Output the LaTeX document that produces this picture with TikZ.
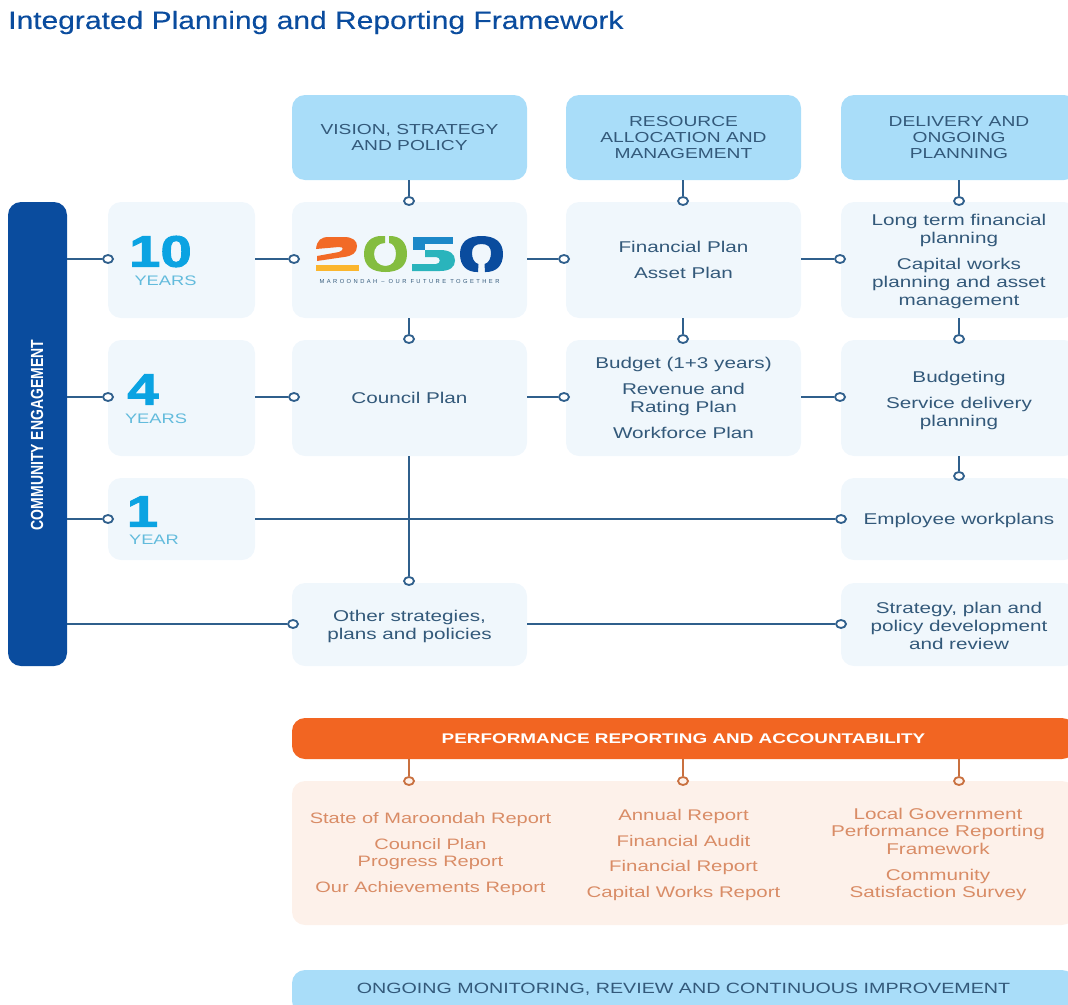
\documentclass[tikz,border=0pt]{standalone}
\usepackage{fontspec}
\setmainfont{Liberation Sans}[FakeStretch=1.325]
\newfontfamily\titlefont{Liberation Sans}[FakeStretch=1.2,FakeBold=0.25]
\newfontfamily\boldwide{Liberation Sans Bold}[FakeStretch=1.35]
\newfontfamily\numfont{Liberation Sans Bold}[FakeStretch=1.28,FakeBold=2.2]
\newfontfamily\narrowbold{Liberation Sans Bold}[FakeStretch=0.8]
\newfontfamily\tagfont{Liberation Sans}[LetterSpace=42]
\newcommand\liftline[1]{\rule{0pt}{#1pt}}
\definecolor{pale}{HTML}{F0F7FC}
\definecolor{sky}{HTML}{A9DDF9}
\definecolor{navy}{HTML}{0A4C9E}
\definecolor{ink}{HTML}{33597A}
\definecolor{wire}{HTML}{2F5F8C}
\definecolor{num}{HTML}{0BA3E2}
\definecolor{yrs}{HTML}{62BBDC}
\definecolor{flame}{HTML}{F26522}
\definecolor{peach}{HTML}{FDF1EA}
\definecolor{rust}{HTML}{D98C66}
\definecolor{wirerust}{HTML}{C9703F}
\definecolor{lorange}{HTML}{F26A26}
\definecolor{lyellow}{HTML}{FBB62E}
\definecolor{lgreen}{HTML}{84BD3F}
\definecolor{lblue}{HTML}{1C88C8}
\definecolor{lteal}{HTML}{2AB4BC}
\tikzset{
  x=1pt,y=-1pt,
  pbox/.style={fill=pale,rounded corners=13pt,inner sep=0pt,align=center,text=ink,
    font=\fontsize{15.6}{18}\selectfont},
  hbox/.style={pbox,fill=sky},
  wbox/.style={pbox,minimum width=235pt,minimum height=116pt},
  dwbox/.style={pbox,minimum width=236pt,minimum height=116pt},
  ybox/.style={pbox,minimum width=147pt},
  hd/.style={hbox,minimum width=235pt,minimum height=85pt,font=\fontsize{14.5}{16}\selectfont},
  dot/.style={circle,draw=wire,fill=white,line width=1.8pt,minimum width=8pt,inner sep=0pt,xscale=1.25},
  odot/.style={dot,draw=wirerust,fill=peach},
  wire/.style={draw=wire,line width=2pt},
  owire/.style={draw=wirerust,line width=2pt},
  bignum/.style={text=num,inner sep=0pt,font=\fontsize{44}{44}\numfont},
  yrtxt/.style={text=yrs,inner sep=0pt,font=\fontsize{13.8}{14}\selectfont},
  rep/.style={text=rust,inner sep=0pt,align=center,font=\fontsize{15.4}{17.6}\selectfont},
}
\begin{document}
\begin{tikzpicture}
\useasboundingbox (0,0) rectangle (1068,1004);
\clip (0,0) rectangle (1068,1004);
\node[anchor=west,inner sep=0pt,text=navy,font=\fontsize{25}{27}\titlefont] (title) at (8,22.5) {Integrated Planning and Reporting Framework};

% headers
\node[hd] (hv) at (409.5,137.5) {VISION, STRATEGY\\AND POLICY};
\node[hd] (hr) at (683.5,137.5) {RESOURCE\\ALLOCATION AND\\MANAGEMENT};
\node[hd,minimum width=236pt] (hd) at (959,137.5) {DELIVERY AND\\ONGOING\\PLANNING};

% community bar
\node[fill=navy,rounded corners=13pt,minimum width=59pt,minimum height=464pt,inner sep=0pt] (comm) at (37.5,434) {};
\node[rotate=90,text=white,inner sep=0pt,font=\fontsize{17.5}{18}\narrowbold] (commt) at (37,435) {COMMUNITY ENGAGEMENT};

% row 10
\node[ybox,minimum height=116pt] (y10) at (181.5,260) {};
\node[wbox] (logo) at (409.5,260) {};
\node[wbox] (fin) at (683.5,260) {Financial Plan\\[8pt]Asset Plan};
\node[dwbox] (ltf) at (959,260) {\liftline{13.5}Long term financial\\planning\\[8pt]Capital works\\planning and asset\\management};
% row 4
\node[ybox,minimum height=116pt] (y4) at (181.5,398) {};
\node[wbox] (cp) at (409.5,398) {Council Plan};
\node[wbox] (bud) at (683.5,398) {Budget (1+3 years)\\[8pt]Revenue and\\Rating Plan\\[8pt]Workforce Plan};
\node[dwbox] (bdg) at (959,398) {\liftline{15.5}Budgeting\\[8pt]Service delivery\\planning};
% row 1
\node[ybox,minimum height=82pt] (y1) at (181.5,519) {};
\node[dwbox,minimum height=82pt] (emp) at (959,519) {\liftline{15}Employee workplans};
% other
\node[wbox,minimum height=83pt] (oth) at (409.5,624.5) {\liftline{15.5}Other strategies,\\plans and policies};
\node[dwbox,minimum height=83pt] (str) at (959,624.5) {\liftline{13.5}Strategy, plan and\\policy development\\and review};

% year labels
\node[bignum] (n10) at (160.5,251.5) {10};
\node[yrtxt] (t10) at (165.5,281) {YEARS};
\node[bignum] (n4) at (143,389.5) {4};
\node[yrtxt] (t4) at (156,419) {YEARS};
\node[bignum] (n1) at (142.5,511.5) {1};
\node[yrtxt] (t1) at (154,540) {YEAR};

% logo
\fill[lorange] (316,249) .. controls (317,240) and (321,237) .. (329,237) -- (344,237) .. controls (353,237) and (357,241) .. (357,246) .. controls (357,253) and (352,256) .. (344,257) -- (317,261) -- (317,256) -- (339,252) .. controls (344,250) and (344,247) .. (339,247) -- cycle;
\fill[lyellow] (316,264.5) rectangle (359,271);
\fill[lgreen] (364,254) .. controls (364,242) and (372,236) .. (381,236) -- (385,236) -- (385,243) .. controls (378,243) and (374,248) .. (374,254) .. controls (374,261) and (379,266) .. (385.5,266) .. controls (392,266) and (396,261) .. (396,254) .. controls (396,248) and (393,243) .. (389,243) -- (389,236) -- (390,236) .. controls (400,236) and (407,242) .. (407,254) .. controls (407,266) and (399,272) .. (385.5,272) .. controls (372,272) and (364,266) .. (364,254) -- cycle;
\fill[lblue] (412.5,236.5) rectangle (453,243.5);
\fill[lblue] (412.5,243.5) rectangle (425,250);
\fill[lteal] (425,250) -- (440,250) .. controls (450,250) and (455,254) .. (455,260.5) .. controls (455,267) and (450,271) .. (440,271) -- (412,271) -- (412,264) -- (436,264) .. controls (441,264) and (441,257) .. (436,257) -- (425,257) -- cycle;
\fill[navy] (460,254) .. controls (460,242) and (468,236) .. (481.5,236) .. controls (495,236) and (503,242) .. (503,254) .. controls (503,266) and (496,272) .. (486,272) -- (485,272) -- (484.5,264) .. controls (489,263) and (491,258) .. (491,253) .. controls (491,247) and (488,244) .. (481.5,244) .. controls (475,244) and (472,247) .. (472,253) .. controls (472,258) and (474,263) .. (478.5,264) -- (478,272) -- (477,272) .. controls (467,272) and (460,266) .. (460,254) -- cycle;
\node[inner sep=0pt,text=ink,font=\fontsize{5.8}{6}\tagfont] (tag) at (409.5,281.5) {MAROONDAH – OUR FUTURE TOGETHER};

% dots
\foreach \n/\x/\y in {dv1/409/201,dr1/683/201,dd1/959/201,
  dl10/108/259,dy10/294/259,dl1f/564/259,dl1d/840/259,
  dv2/409/339,dr2/683/339,dd2/959/339,
  dl4/108/397,dy4/294/397,dc4/564/397,db4/840/397,
  dd3/959/476,
  dl1/108/519,de1/841/519,
  do1/409/581,dol/293/624,dor/841/624}
  {\node[dot] (\n) at (\x,\y) {};}

% connectors
\path[wire] (dv1 |- hv.south) -- (dv1);
\path[wire] (dr1 |- hr.south) -- (dr1);
\path[wire] (hd.south) -- (dd1);
\path[wire] (comm.east |- dl10) -- (dl10);
\path[wire] (y10.east |- dy10) -- (dy10);
\path[wire] (logo.east |- dl1f) -- (dl1f);
\path[wire] (fin.east |- dl1d) -- (dl1d);
\path[wire] (dv2 |- logo.south) -- (dv2);
\path[wire] (dr2 |- fin.south) -- (dr2);
\path[wire] (ltf.south) -- (dd2);
\path[wire] (comm.east |- dl4) -- (dl4);
\path[wire] (y4.east |- dy4) -- (dy4);
\path[wire] (cp.east |- dc4) -- (dc4);
\path[wire] (bud.east |- db4) -- (db4);
\path[wire] (bdg.south) -- (dd3);
\path[wire] (comm.east |- dl1) -- (dl1);
\path[wire] (y1.east) -- (de1);
\path[wire] (do1 |- cp.south) -- (do1);
\path[wire] (comm.east |- dol) -- (dol);
\path[wire] (oth.east |- dor) -- (dor);

% performance
\node[fill=flame,rounded corners=13pt,minimum width=783pt,minimum height=41pt,inner sep=0pt] (perf) at (683.5,738.5) {};
\node[text=white,inner sep=0pt,font=\fontsize{14}{15}\boldwide] (perft) at (683.5,738.5) {PERFORMANCE REPORTING AND ACCOUNTABILITY};
\node[fill=peach,rounded corners=13pt,minimum width=783pt,minimum height=144pt,inner sep=0pt] (repbox) at (683.5,853) {};
\node[odot] (o1) at (409,781) {};
\node[odot] (o2) at (683,781) {};
\node[odot] (o3) at (959,781) {};
\path[owire] (perf.south -| o1) -- (o1);
\path[owire] (perf.south -| o2) -- (o2);
\path[owire] (perf.south -| o3) -- (o3);
\node[rep,font=\fontsize{15.1}{17.6}\selectfont] (r1) at (430.5,854) {State of Maroondah Report\\[8pt]Council Plan\\Progress Report\\[8pt]Our Achievements Report};
\node[rep] (r2) at (683.5,855) {Annual Report\\[8pt]Financial Audit\\[8pt]Financial Report\\[8pt]Capital Works Report};
\node[rep,font=\fontsize{15.6}{17.6}\selectfont] (r3) at (938,854.5) {Local Government\\Performance Reporting\\Framework\\[8pt]Community\\Satisfaction Survey};

% ongoing
\node[hbox,minimum width=783pt,minimum height=44pt] (ong) at (683.5,992) {};
\node[text=ink,inner sep=0pt,font=\fontsize{14.85}{15}\selectfont] (ongt) at (683.5,989) {ONGOING MONITORING, REVIEW AND CONTINUOUS IMPROVEMENT};
\end{tikzpicture}
\end{document}
